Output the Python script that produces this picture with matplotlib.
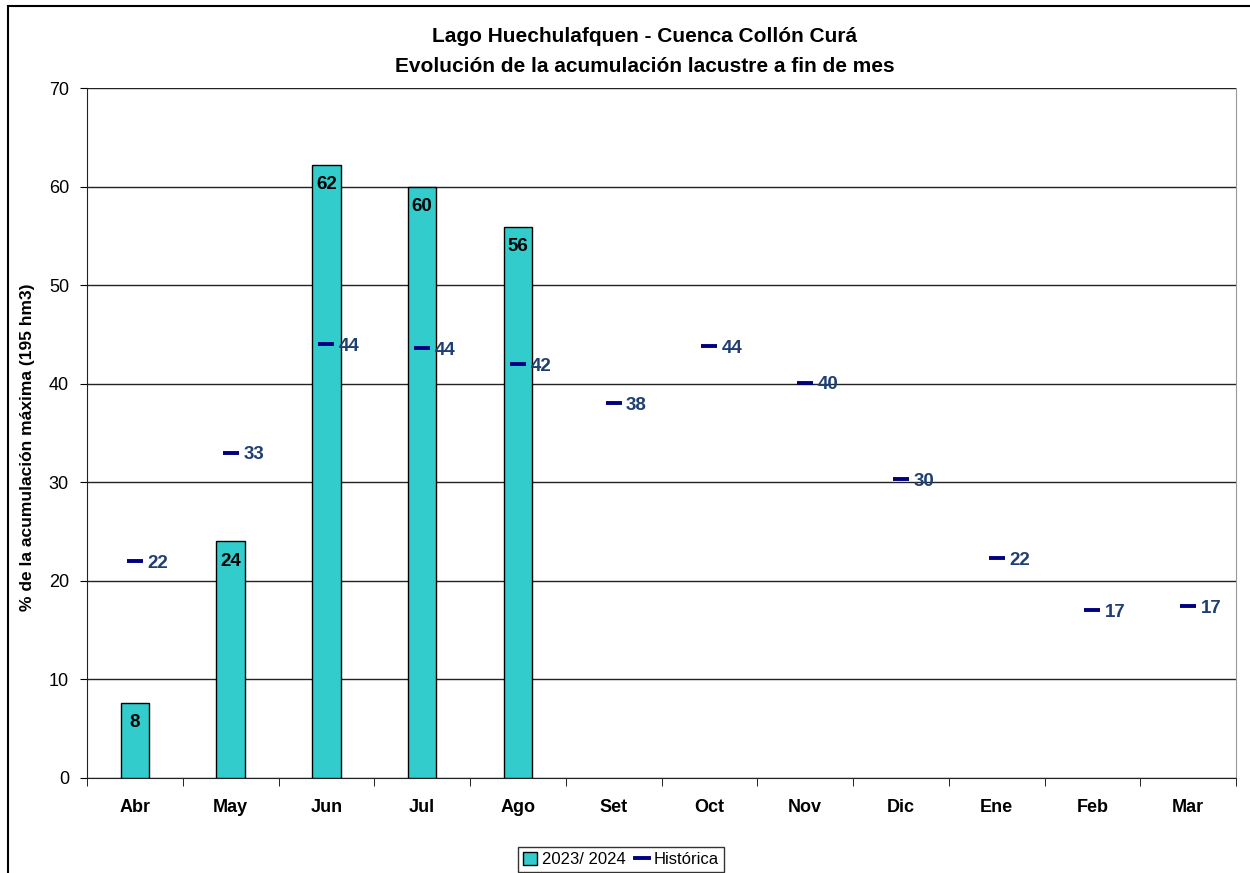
import matplotlib.pyplot as plt
import numpy as np
from matplotlib.lines import Line2D
from matplotlib.patches import Patch, Rectangle

plt.rcParams['font.family'] = ['Liberation Sans', 'DejaVu Sans']

meses = ['Abr', 'May', 'Jun', 'Jul', 'Ago', 'Set', 'Oct', 'Nov', 'Dic', 'Ene', 'Feb', 'Mar']
actual = [7.6, 24.0, 62.2, 60.0, 55.9]          # 2023/2024, months measured so far
historica = [22.0, 33.0, 44.0, 43.6, 42.0, 38.0, 43.8, 40.1, 30.3, 22.3, 17.0, 17.4]
yticks = [0, 10, 20, 30, 40, 50, 60, 70]

bar_color = '#33CCCC'
hist_color = '#000080'
hist_text = '#1F3F73'

fig = plt.figure(figsize=(12.5, 8.73), dpi=100)
ax = fig.add_axes([87 / 1250, 1 - 778 / 873, (1236 - 87) / 1250, (778 - 88) / 873])

x = np.arange(len(meses))
bars = ax.bar(x[:len(actual)], actual, width=0.3, color=bar_color,
              edgecolor='black', linewidth=1, zorder=3)
for b, v in zip(bars, actual):
    ax.annotate(f'{v:.0f}', (b.get_x() + b.get_width() / 2, v),
                xytext=(0, -8), textcoords='offset points',
                ha='center', va='top', fontsize=13.5, fontweight='bold', zorder=5)

ax.plot(x, historica, linestyle='none', marker='_', markersize=11,
        markeredgewidth=2.8, color=hist_color, zorder=4)
for xi, v in zip(x, historica):
    ax.annotate(f'{v:.0f}', (xi, v), xytext=(9, -1.5), textcoords='offset points',
                ha='left', va='center', fontsize=13.5, fontweight='bold',
                color=hist_text, zorder=5)

ax.set_xlim(-0.5, len(meses) - 0.5)
ax.set_ylim(0, 70)
ax.set_yticks(yticks)
ax.tick_params(axis='y', labelsize=13, length=5, direction='out', pad=8)
ax.set_xticks(x)
ax.set_xticklabels(meses, fontsize=13, fontweight='bold')
ax.tick_params(axis='x', length=0, pad=15)
ax.set_xticks(np.arange(-0.5, len(meses)), minor=True)
ax.tick_params(axis='x', which='minor', length=6, direction='out')

ax.yaxis.grid(True, color='#222222', linewidth=1)
ax.set_axisbelow(True)
ax.spines['top'].set_visible(False)
ax.spines['right'].set_color('#999999')
ax.spines['left'].set_color('#222222')
ax.spines['bottom'].set_color('#222222')

ax.set_ylabel('% de la acumulación máxima (195 hm3)', fontsize=12.5,
              fontweight='bold')
ax.yaxis.set_label_coords(-52 / 1149, 0.48)

fig.text(0.516, 1 - 37 / 873, 'Lago Huechulafquen - Cuenca Collón Curá',
         ha='center', va='center', fontsize=15, fontweight='bold')
fig.text(0.516, 1 - 67 / 873, 'Evolución de la acumulación lacustre a fin de mes',
         ha='center', va='center', fontsize=15, fontweight='bold')

handles = [Patch(facecolor=bar_color, edgecolor='black', label='2023/ 2024'),
           Line2D([], [], color=hist_color, linewidth=2.8, label='Histórica')]
fig.legend(handles=handles, loc='upper center', bbox_to_anchor=(621 / 1250, 1 - 847 / 873),
           ncol=2, frameon=True, fancybox=False, edgecolor='black', fontsize=12,
           handlelength=0.8, handleheight=0.8, handletextpad=0.3, columnspacing=0.6,
           borderpad=0.3, borderaxespad=0)

# outer chart frame
fig.patches.append(Rectangle((8 / 1250, -0.05), 1.1, 1 - 6 / 873 + 0.05,
                             transform=fig.transFigure, fill=False,
                             edgecolor='black', linewidth=1.5))

fig.savefig('out.png', dpi=100)
